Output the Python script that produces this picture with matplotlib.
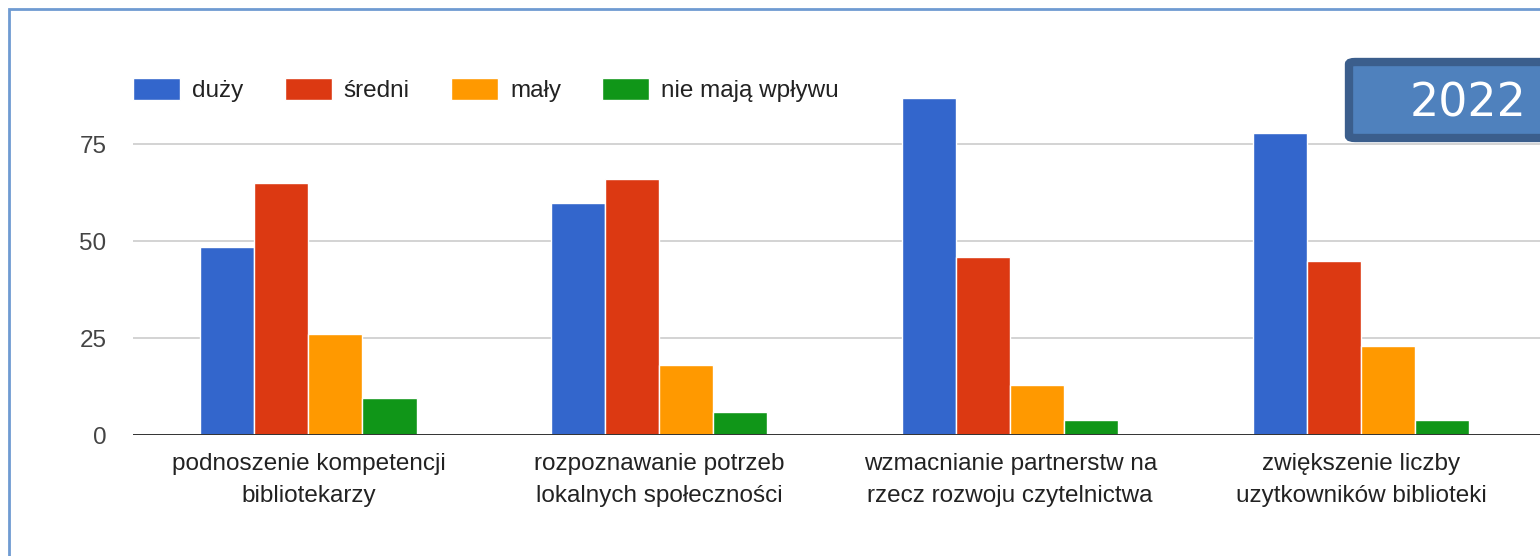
import matplotlib.pyplot as plt
import numpy as np
from matplotlib.patches import FancyBboxPatch, Rectangle

plt.rcParams['font.family'] = ['Liberation Sans', 'DejaVu Sans']

# data
categories = ['podnoszenie kompetencji\nbibliotekarzy',
              'rozpoznawanie potrzeb\nlokalnych społeczności',
              'wzmacnianie partnerstw na\nrzecz rozwoju czytelnictwa',
              'zwiększenie liczby\nuzytkowników biblioteki']
series = ['duży', 'średni', 'mały', 'nie mają wpływu']
duzy = [48.5, 65, 26, 9.5]
sredni = [60, 66, 18, 6]
maly = [87, 46, 13, 4]
brak = [78, 45, 23, 4]
colors = ['#3366cc', '#dc3912', '#ff9900', '#109618']
year = '2022'

# values per category -> per series
vals = np.array([duzy, sredni, maly, brak]).T

W, H = 1540, 556
fig = plt.figure(figsize=(W / 100, H / 100), dpi=100)
# y=0 sits at pixel row 435
ax = fig.add_axes([133 / W, (H - 435) / H, 1 - 133 / W, (435 - 60) / H])

x = np.arange(len(categories))
bw = 0.154
for i, (name, col) in enumerate(zip(series, colors)):
    ax.bar(x + (i - 1.5) * bw, vals[i], bw, color=col, edgecolor='white',
           linewidth=1, label=name, zorder=3)

ax.set_xlim(-0.5, 3.51)
ax.set_ylim(0, 96.8)
ax.set_yticks([0, 25, 50, 75])
ax.grid(axis='y', color='#cccccc', linewidth=1.2, zorder=0)
ax.axhline(0, color='#333333', linewidth=1.4, zorder=4)
for s in ax.spines.values():
    s.set_visible(False)
ax.tick_params(axis='both', length=0, labelsize=17.5, colors='#444444')
ax.tick_params(axis='y', pad=19)
ax.set_xticks(x)
ax.set_xticklabels(categories, fontsize=17.5, color='#222222', linespacing=1.6)
ax.tick_params(axis='x', pad=13)

leg = fig.legend(loc='upper left', bbox_to_anchor=(133 / W, 1 - 78 / H),
                 ncol=4, frameon=False, fontsize=17.5, borderaxespad=0,
                 borderpad=0, handlelength=1.93, handleheight=1.0,
                 handletextpad=0.5, columnspacing=1.7)
for t in leg.get_texts():
    t.set_color('#222222')

# outer blue frame (left and top only visible)
fig.add_artist(Rectangle((9 / W, -0.1), 1.2, 1 - 9 / H + 0.1,
                         transform=fig.transFigure, fill=False,
                         edgecolor='#6f9bd2', linewidth=2))

# year badge
fig.add_artist(FancyBboxPatch((1349 / W, 1 - 138 / H), 230 / W, 76 / H,
                              boxstyle='round,pad=0,rounding_size=0.004',
                              transform=fig.transFigure, facecolor='#4f81bd',
                              edgecolor='#3b5e8c', linewidth=6, zorder=10))
fig.text(1410 / W, 1 - 104 / H, year, color='white', fontsize=33,
         family='DejaVu Sans', va='center', ha='left', zorder=11)

fig.savefig('out.png', dpi=100)
